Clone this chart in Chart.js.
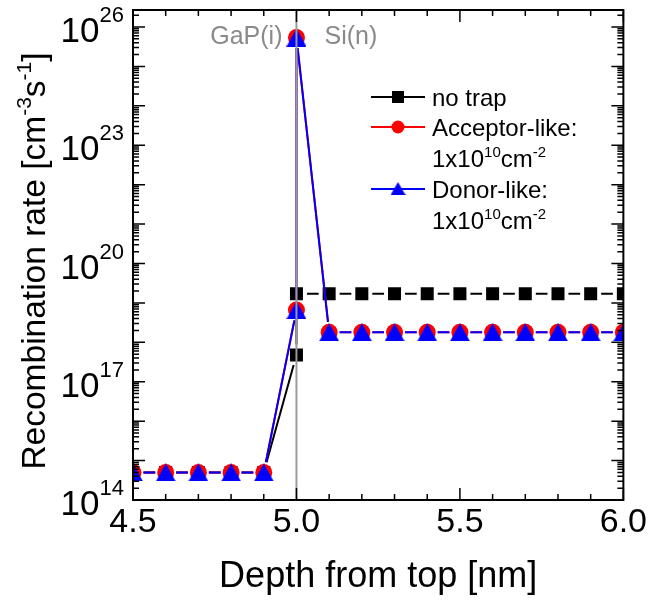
<!DOCTYPE html>
<html>
<head>
<meta charset="utf-8">
<script src="https://cdn.jsdelivr.net/npm/chart.js@4.4.0/dist/chart.umd.min.js"></script>
<style>
  html, body { margin: 0; padding: 0; background: #fff; }
  canvas { display: block; }
</style>
</head>
<body>
<canvas id="chart" width="649" height="602"></canvas>
<script>
// depth [nm]; 5.0 appears twice (GaP side / Si side of the interface)
var depth = [4.5, 4.6, 4.7, 4.8, 4.9, 5.0, 5.0, 5.1, 5.2, 5.3, 5.4, 5.5, 5.6, 5.7, 5.8, 5.9, 6.0];
var noTrap = [5e14, 5e14, 5e14, 5e14, 5e14, 4.8e17, 1.7e19,
  1.7e19, 1.7e19, 1.7e19, 1.7e19, 1.7e19, 1.7e19, 1.7e19, 1.7e19, 1.7e19, 1.7e19];
var acceptorLike = [5e14, 5e14, 5e14, 5e14, 5e14, 6.6e18, 5.4e25,
  1.8e18, 1.8e18, 1.8e18, 1.8e18, 1.8e18, 1.8e18, 1.8e18, 1.8e18, 1.8e18, 1.8e18];
var donorLike = [5e14, 5e14, 5e14, 5e14, 5e14, 6.6e18, 5.4e25,
  1.8e18, 1.8e18, 1.8e18, 1.8e18, 1.8e18, 1.8e18, 1.8e18, 1.8e18, 1.8e18, 1.8e18];

var xTicks = [4.5, 5.0, 5.5, 6.0];
var xTickLabels = ["4.5", "5.0", "5.5", "6.0"];
var yTickExponents = [14, 17, 20, 23, 26];

var FONT = 'Arial, "Liberation Sans", sans-serif';
var GAP = 10.5; // gap between a marker centre and its connecting line

function toPoints(ys) {
  return depth.map(function(x, i) { return {x: x, y: ys[i]}; });
}

function segLen(ctx) {
  var dx = ctx.p1.x - ctx.p0.x, dy = ctx.p1.y - ctx.p0.y;
  return Math.sqrt(dx * dx + dy * dy);
}
function gapDash(ctx) {
  var len = segLen(ctx);
  if (len <= 2 * GAP + 1) return [0, len + 1];
  return [len - 2 * GAP, 2 * GAP];
}
function gapOffset(ctx) {
  var len = segLen(ctx);
  if (len <= 2 * GAP + 1) return 0;
  return len - GAP;
}

function makeTriangle(w, h, color) {
  var c = document.createElement('canvas');
  c.width = w; c.height = h;
  var g = c.getContext('2d');
  g.fillStyle = color;
  g.beginPath();
  g.moveTo(w / 2, 0);
  g.lineTo(w, h);
  g.lineTo(0, h);
  g.closePath();
  g.fill();
  return c;
}
var triBig = makeTriangle(20, 18, '#0000ff');
var triSmall = makeTriangle(15, 13, '#0000ff');

// text with superscripts, parts = [[text, isSup], ...]
function drawRich(ctx, parts, x, y, size, align) {
  var supSize = Math.round(size * 0.62), rise = size * 0.42;
  var total = 0, widths = [];
  parts.forEach(function(p) {
    ctx.font = (p[1] ? supSize : size) + 'px ' + FONT;
    var w = ctx.measureText(p[0]).width;
    widths.push(w); total += w;
  });
  var cx = align === 'center' ? x - total / 2 : (align === 'right' ? x - total : x);
  ctx.textAlign = 'left';
  ctx.textBaseline = 'alphabetic';
  parts.forEach(function(p, i) {
    ctx.font = (p[1] ? supSize : size) + 'px ' + FONT;
    ctx.fillText(p[0], cx, p[1] ? y - rise : y);
    cx += widths[i];
  });
}

var decorPlugin = {
  id: 'decor',
  afterDatasetsDraw: function(chart) {
    var ctx = chart.ctx, a = chart.chartArea;
    var xs = chart.scales.x, ys = chart.scales.y;
    ctx.save();

    // interface line
    var xi = xs.getPixelForValue(5.0);
    ctx.strokeStyle = '#9a9a9a';
    ctx.lineWidth = 2;
    ctx.beginPath();
    ctx.moveTo(xi, a.top); ctx.lineTo(xi, a.bottom);
    ctx.stroke();

    ctx.fillStyle = '#8a8a8a';
    ctx.font = '25px ' + FONT;
    ctx.textBaseline = 'alphabetic';
    ctx.textAlign = 'right';
    ctx.fillText('GaP(i)', xi - 14, 44);
    ctx.textAlign = 'left';
    ctx.fillText('Si(n)', xi + 28, 44);

    // frame
    ctx.strokeStyle = '#000';
    ctx.lineWidth = 2;
    ctx.strokeRect(a.left, a.top, a.right - a.left, a.bottom - a.top);

    // ticks, inward on all four sides
    ctx.lineWidth = 1.5;
    ctx.beginPath();
    for (var i = 0; i <= 15; i++) {
      var px = xs.getPixelForValue(4.5 + i * 0.1);
      var len = (i % 5 === 0) ? 12 : 6;
      ctx.moveTo(px, a.bottom); ctx.lineTo(px, a.bottom - len);
      ctx.moveTo(px, a.top); ctx.lineTo(px, a.top + len);
    }
    for (var e = 13; e <= 26; e++) {
      for (var m = 1; m <= 9; m++) {
        var v = m * Math.pow(10, e);
        if (v < ys.min || v > ys.max) continue;
        var py = ys.getPixelForValue(v);
        var l = (m === 1) ? 12 : 6;
        ctx.moveTo(a.left, py); ctx.lineTo(a.left + l, py);
        ctx.moveTo(a.right, py); ctx.lineTo(a.right - l, py);
      }
    }
    ctx.stroke();

    // y tick labels 10^n
    ctx.fillStyle = '#000';
    yTickExponents.forEach(function(ex) {
      var py = ys.getPixelForValue(Math.pow(10, ex));
      ctx.font = '22px ' + FONT;
      ctx.textAlign = 'right';
      var sw = ctx.measureText(String(ex)).width;
      ctx.fillText(String(ex), 124, py - 5);
      ctx.font = '35px ' + FONT;
      ctx.fillText('10', 124 - sw, py + 15);
    });

    // y title
    ctx.save();
    ctx.translate(45, 261);
    ctx.rotate(-Math.PI / 2);
    drawRich(ctx, [['Recombination rate [cm', false], ['-3', true], ['s', false], ['-1', true], [']', false]],
      0, 0, 33.5, 'center');
    ctx.restore();

    // legend
    var lx0 = 371, lx1 = 425, mx = 398, tx = 432;
    var rows = [97, 127, 158, 189, 220];
    ctx.lineWidth = 2;
    [['#000', 0], ['#ff0000', 1], ['#0000ff', 3]].forEach(function(s) {
      ctx.strokeStyle = s[0];
      ctx.beginPath();
      ctx.moveTo(lx0, rows[s[1]]); ctx.lineTo(lx1, rows[s[1]]);
      ctx.stroke();
    });
    ctx.fillStyle = '#000';
    ctx.fillRect(mx - 6, rows[0] - 6, 12, 12);
    ctx.fillStyle = '#ff0000';
    ctx.beginPath(); ctx.arc(mx, rows[1], 6.5, 0, Math.PI * 2); ctx.fill();
    ctx.drawImage(triSmall, mx - 7.5, rows[3] - 7);

    ctx.fillStyle = '#000';
    drawRich(ctx, [['no trap', false]], tx, rows[0] + 9, 24, 'left');
    drawRich(ctx, [['Acceptor-like:', false]], tx, rows[1] + 9, 24, 'left');
    drawRich(ctx, [['1x10', false], ['10', true], ['cm', false], ['-2', true]], tx, rows[2] + 9, 24, 'left');
    drawRich(ctx, [['Donor-like:', false]], tx, rows[3] + 9, 24, 'left');
    drawRich(ctx, [['1x10', false], ['10', true], ['cm', false], ['-2', true]], tx, rows[4] + 9, 24, 'left');

    ctx.restore();
  }
};

var ctx = document.getElementById('chart').getContext('2d');
var chart = new Chart(ctx, {
  type: 'line',
  data: {
    datasets: [{
      label: 'no trap',
      data: toPoints(noTrap),
      borderColor: '#000',
      backgroundColor: '#000',
      borderWidth: 2,
      pointStyle: 'rect',
      pointRadius: 9.2,
      pointBorderWidth: 0,
      order: 2,
      segment: { borderDash: gapDash, borderDashOffset: gapOffset }
    }, {
      label: 'Acceptor-like',
      data: toPoints(acceptorLike),
      borderColor: '#ff0000',
      backgroundColor: '#ff0000',
      borderWidth: 2,
      pointStyle: 'circle',
      pointRadius: 8.5,
      pointBorderWidth: 0,
      order: 1,
      segment: { borderDash: gapDash, borderDashOffset: gapOffset }
    }, {
      label: 'Donor-like',
      data: toPoints(donorLike),
      borderColor: '#0000ff',
      backgroundColor: '#0000ff',
      borderWidth: 2,
      pointStyle: triBig,
      pointRadius: 9,
      pointBorderWidth: 0,
      order: 0,
      segment: { borderDash: gapDash, borderDashOffset: gapOffset }
    }]
  },
  options: {
    responsive: false,
    animation: false,
    events: [],
    layout: { padding: { top: 10, right: 25, left: 0, bottom: 0 } },
    plugins: { legend: { display: false }, tooltip: { enabled: false } },
    scales: {
      x: {
        type: 'linear',
        min: 4.5,
        max: 6.0,
        afterBuildTicks: function(axis) {
          axis.ticks = xTicks.map(function(v) { return {value: v}; });
        },
        afterFit: function(scale) { scale.height = 102; },
        ticks: {
          color: '#000',
          padding: 2,
          font: { size: 34, family: FONT },
          callback: function(value, index) { return xTickLabels[index]; }
        },
        grid: { display: false, drawTicks: false },
        border: { display: false },
        title: {
          display: true,
          text: 'Depth from top [nm]',
          color: '#000',
          font: { size: 36, family: FONT },
          padding: { top: 0, bottom: 3 }
        }
      },
      y: {
        type: 'logarithmic',
        min: 1e14,
        max: 2.7e26,
        afterFit: function(scale) { scale.width = 133; },
        ticks: { display: false },
        grid: { display: false, drawTicks: false },
        border: { display: false }
      }
    }
  },
  plugins: [decorPlugin]
});
</script>
</body>
</html>
